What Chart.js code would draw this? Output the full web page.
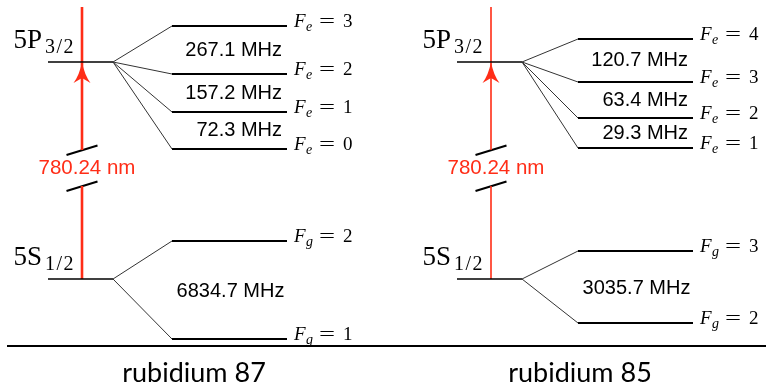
<!DOCTYPE html>
<html>
<head>
<meta charset="utf-8">
<title>Rb D2 hyperfine structure</title>
<script src="https://cdn.jsdelivr.net/npm/chart.js@4"></script>
<style>
  body { margin: 0; background: #fff; }
  #wrap { width: 766px; height: 385px; }
</style>
</head>
<body>
<div id="wrap"><canvas id="levels"></canvas></div>
<script>
// level data, heights in diagram units counted down from the top
const isotopes = ["rubidium 87", "rubidium 85"];
const fineNames = [["5P", "3/2"], ["5S", "1/2"]];
const fineHeight = [62, 279];
const excitedF = [[3, 2, 1, 0], [4, 3, 2, 1]];
const excitedHeight = [[26, 74, 112, 149], [39, 82, 118, 148]];
const excitedSplit = [["267.1 MHz", "157.2 MHz", "72.3 MHz"], ["120.7 MHz", "63.4 MHz", "29.3 MHz"]];
const groundF = [[2, 1], [3, 2]];
const groundHeight = [[241, 339], [251, 323]];
const groundSplit = ["6834.7 MHz", "3035.7 MHz"];
const wavelength = "780.24 nm";

// layout
const panelLeft = [48, 457];
const fineWidth = 65;
const hfStart = [124, 121];
const hfEnd = [239, 236];
const arrowOffset = 34;
const arrowTop = 7;
const breaks = [150, 186];
const ruleY = 346;
const captionX = [194, 580];
const red = "#ff2d17";
const redWidth = [2.6, 1.6];

function seg(x1, y1, x2, y2, color, width) {
    return {
        data: [{x: x1, y: y1}, {x: x2, y: y2}],
        showLine: true,
        borderColor: color,
        borderWidth: width,
        pointRadius: 0,
        fill: false
    };
}

let datasets = [];
for (let p = 0; p < 2; p++) {
    let x0 = panelLeft[p];
    let xs = x0 + hfStart[p], xe = x0 + hfEnd[p];
    // fine structure levels
    fineHeight.forEach(function(h) {
        datasets.push(seg(x0, h, x0 + fineWidth, h, "#000", 1.5));
    });
    // hyperfine levels + fan lines
    excitedHeight[p].forEach(function(h) {
        datasets.push(seg(x0 + fineWidth, fineHeight[0], xs, h, "#333", 1));
        datasets.push(seg(xs, h, xe, h, "#000", 2.2));
    });
    groundHeight[p].forEach(function(h) {
        datasets.push(seg(x0 + fineWidth, fineHeight[1], xs, h, "#333", 1));
        datasets.push(seg(xs, h, xe, h, "#000", 2));
    });
    // laser transition, broken in the middle
    let ax = x0 + arrowOffset;
    datasets.push(seg(ax, arrowTop, ax, breaks[0], red, redWidth[p]));
    datasets.push(seg(ax, breaks[1], ax, fineHeight[1], red, redWidth[p]));
    breaks.forEach(function(b) {
        datasets.push(seg(ax - 15.5, b + 5, ax + 15.5, b - 4.5, "#000", 2));
    });
}
datasets.push(seg(7, ruleY, 766, ruleY, "#000", 1.8));

function mathLabel(ctx, x, y, sub, val) {
    ctx.textAlign = "left";
    ctx.textBaseline = "alphabetic";
    ctx.font = "italic 19px 'Liberation Serif'";
    ctx.fillText("F", x, y);
    ctx.font = "italic 14px 'Liberation Serif'";
    ctx.fillText(sub, x + 12, y + 4);
    ctx.font = "19px 'Liberation Serif'";
    ctx.save();
    ctx.translate(x + 25, y);
    ctx.scale(1.5, 1);
    ctx.fillText("=", 0, 0);
    ctx.restore();
    ctx.fillText(val, x + 49, y);
}

function levelName(ctx, xRight, y, name) {
    ctx.textBaseline = "alphabetic";
    ctx.textAlign = "left";
    ctx.font = "27px 'Liberation Serif'";
    let w1 = ctx.measureText(name[0]).width;
    ctx.font = "20px 'Liberation Serif'";
    let chars = name[1].split("");
    let w2 = 0;
    chars.forEach(function(c) { w2 += ctx.measureText(c).width + 1.5; });
    let x = xRight - w1 - w2 - 2;
    ctx.font = "27px 'Liberation Serif'";
    ctx.fillText(name[0], x, y);
    ctx.font = "20px 'Liberation Serif'";
    let cx = x + w1 + 3;
    chars.forEach(function(c) {
        ctx.fillText(c, cx, y + 5);
        cx += ctx.measureText(c).width + 1.5;
    });
}

const labels = {
    id: "labels",
    afterDatasetsDraw(chart) {
        const ctx = chart.ctx;
        const sx = chart.scales.x, sy = chart.scales.y;
        ctx.save();
        ctx.fillStyle = "#000";
        for (let p = 0; p < 2; p++) {
            let x0 = panelLeft[p];
            let xe = sx.getPixelForValue(x0 + hfEnd[p]);
            let xm = sx.getPixelForValue(x0 + (hfStart[p] + hfEnd[p]) / 2);
            // F labels
            excitedF[p].forEach(function(f, i) {
                mathLabel(ctx, xe + 7, sy.getPixelForValue(excitedHeight[p][i]) + 1, "e", String(f));
            });
            groundF[p].forEach(function(f, i) {
                mathLabel(ctx, xe + 7, sy.getPixelForValue(groundHeight[p][i]) + 1, "g", String(f));
            });
            // splittings
            ctx.font = "20px 'Liberation Sans'";
            ctx.textBaseline = "middle";
            ctx.textAlign = "right";
            excitedSplit[p].forEach(function(s, i) {
                let ym = sy.getPixelForValue((excitedHeight[p][i] + excitedHeight[p][i + 1]) / 2);
                ctx.fillText(s, xe - 5, ym);
            });
            ctx.textAlign = "center";
            let yg = sy.getPixelForValue((groundHeight[p][0] + groundHeight[p][1]) / 2);
            ctx.fillText(groundSplit[p], xm + 1, yg + 1);
            // fine structure names
            fineNames.forEach(function(n, i) {
                levelName(ctx, sx.getPixelForValue(x0 + 26), sy.getPixelForValue(fineHeight[i]) - 14, n);
            });
            // arrow head and wavelength
            let ax = sx.getPixelForValue(x0 + arrowOffset);
            let tip = sy.getPixelForValue(fineHeight[0]);
            ctx.fillStyle = red;
            ctx.beginPath();
            ctx.moveTo(ax, tip);
            ctx.quadraticCurveTo(ax + 2.5, tip + 13, ax + 8.5, tip + 21);
            ctx.lineTo(ax, tip + 16);
            ctx.lineTo(ax - 8.5, tip + 21);
            ctx.quadraticCurveTo(ax - 2.5, tip + 13, ax, tip);
            ctx.fill();
            ctx.font = "20.5px 'Liberation Sans'";
            ctx.textAlign = "center";
            ctx.textBaseline = "middle";
            ctx.fillText(wavelength, ax + 5, sy.getPixelForValue((breaks[0] + breaks[1]) / 2));
            ctx.fillStyle = "#000";
            // isotope caption
            ctx.font = "27px Lato";
            ctx.textBaseline = "alphabetic";
            ctx.fillText(isotopes[p], sx.getPixelForValue(captionX[p]), 382);
        }
        ctx.restore();
    }
};

new Chart(document.getElementById("levels").getContext("2d"), {
    type: "scatter",
    data: { datasets: datasets },
    options: {
        responsive: true,
        maintainAspectRatio: false,
        animation: false,
        layout: { padding: 0 },
        scales: {
            x: { type: "linear", min: 0, max: 766, display: false },
            y: { type: "linear", min: 0, max: 385, reverse: true, display: false }
        },
        plugins: {
            legend: { display: false },
            tooltip: { enabled: false }
        }
    },
    plugins: [labels]
});
</script>
</body>
</html>
